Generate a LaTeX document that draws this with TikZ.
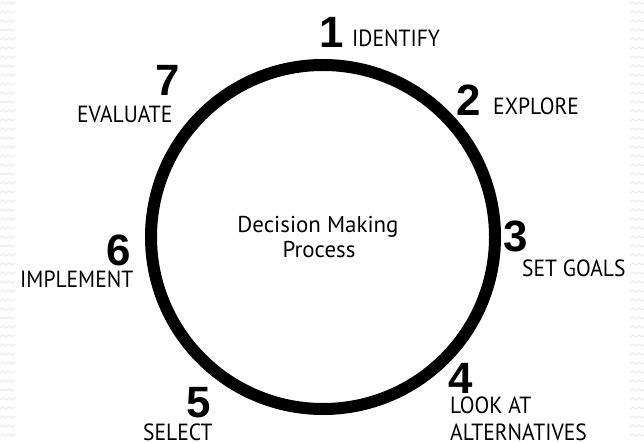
\documentclass[tikz,border=0pt]{standalone}
\usepackage{fontspec}
\setmainfont{PT Sans}
\newfontfamily\labelfont[FakeStretch=0.92]{PT Sans}
\newfontfamily\titlefont{PT Sans}
\newfontfamily\digitfont{Liberation Sans}
\begin{document}
\begin{tikzpicture}[x=1bp,y=-1bp,
  stepnum/.style={anchor=base west, inner sep=0pt, text height=31bp, text depth=0pt,
    font=\digitfont\bfseries\fontsize{44}{44}\selectfont},
  steplabel/.style={anchor=base west, inner sep=0pt, text height=17bp, text depth=0pt,
    font=\labelfont\fontsize{23.5}{23.5}\selectfont},
  centertext/.style={anchor=base, inner sep=0pt, font=\titlefont\fontsize{23}{23}\selectfont},
  edgewave/.style={draw=black!7, line width=1.2bp}]
  % canvas
  \useasboundingbox (0,0) rectangle (644,443);
  \fill[white] (0,0) rectangle (644,443);
  % faint wavy texture along the side edges
  \foreach \y in {4,13,...,443} {
    \draw[edgewave] (0,\y) -- (3,\y-2) -- (6,\y) -- (9,\y-2) -- (12,\y) -- (15,\y-2);
    \draw[edgewave] (630,\y) -- (633,\y-2) -- (636,\y) -- (639,\y-2) -- (642,\y) -- (645,\y-2);
  }
  % the cycle ring
  \node[circle, draw=black, line width=12bp, minimum size=344bp, inner sep=0pt] (ring) at (323,237) {};
  % centre title
  \node[centertext] (title1) at (318,233) {Decision Making};
  \node[centertext] (title2) at (319,258) {Process};
  % step numbers
  \node[stepnum] (n1) at (319,48) {1};
  \node[stepnum] (n2) at (456,116) {2};
  \node[stepnum] (n3) at (503,252) {3};
  \node[stepnum] (n4) at (448,393) {4};
  \node[stepnum] (n5) at (186,417) {5};
  \node[stepnum] (n6) at (106,266) {6};
  \node[stepnum] (n7) at (155,96) {7};
  % step labels
  \node[steplabel] (l1) at (352,47) {IDENTIFY};
  \node[steplabel] (l2) at (493,115) {EXPLORE};
  \node[steplabel] (l3) at (522,277) {SET GOALS};
  \node[steplabel] (l4a) at (450,413) {LOOK AT};
  \node[steplabel] (l4b) at (450,440) {ALTERNATIVES};
  \node[steplabel] (l5) at (143,440) {SELECT};
  \node[steplabel] (l6) at (20,288) {IMPLEMENT};
  \node[steplabel] (l7) at (77,123) {EVALUATE};
\end{tikzpicture}
\end{document}
